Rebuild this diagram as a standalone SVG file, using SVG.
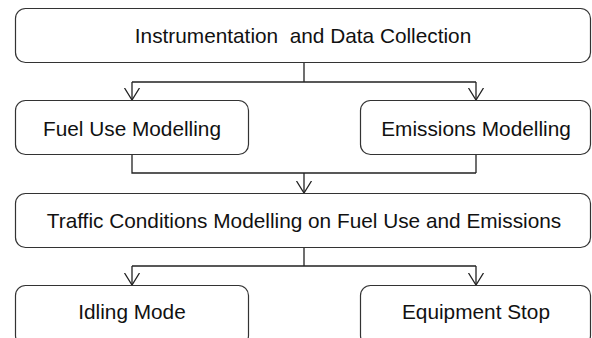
<svg xmlns="http://www.w3.org/2000/svg" width="592" height="338" viewBox="0 0 592 338">
<style>
.box{fill:#fff;stroke:#333;stroke-width:1.2}
.t{font-family:"Liberation Sans",Arial,sans-serif;font-size:20.8px;fill:#111;text-anchor:middle;white-space:pre}
.c{fill:none;stroke:#222;stroke-width:1.3}
</style>
<defs>
<marker id="v" markerWidth="14" markerHeight="18" refX="12" refY="8" orient="auto" markerUnits="userSpaceOnUse" viewBox="0 0 14 16">
<path d="M0.5,0.5 L12.5,8 L0.5,15.5" fill="none" stroke="#222" stroke-width="1.3"/>
</marker>
</defs>
<rect width="592" height="338" fill="#fff"/>
<g id="connectors">
<path class="c" d="M304,62 V82 M132,82 H476"/>
<path class="c" d="M132,82 V99.5" marker-end="url(#v)"/>
<path class="c" d="M476,82 V99.5" marker-end="url(#v)"/>
<path class="c" d="M132,154 V173 H476 M476,154 V173"/>
<path class="c" d="M304,173 V192.5" marker-end="url(#v)"/>
<path class="c" d="M304,247 V266 M132,266 H476"/>
<path class="c" d="M132,266 V284.5" marker-end="url(#v)"/>
<path class="c" d="M476,266 V284.5" marker-end="url(#v)"/>
</g>
<g id="n1"><rect class="box" x="15.5" y="8.5" width="575" height="54" rx="10"/><text class="t" x="303" y="43" xml:space="preserve">Instrumentation  and Data Collection</text></g>
<g id="n2"><rect class="box" x="15.5" y="100.5" width="233" height="54" rx="10"/><text class="t" x="132" y="136">Fuel Use Modelling</text></g>
<g id="n3"><rect class="box" x="360.5" y="100.5" width="230" height="54" rx="10"/><text class="t" x="476" y="136">Emissions Modelling</text></g>
<g id="n4"><rect class="box" x="15.5" y="193.5" width="575" height="54" rx="10"/><text class="t" x="304" y="228">Traffic Conditions Modelling on Fuel Use and Emissions</text></g>
<g id="n5"><rect class="box" x="15.5" y="285.5" width="233" height="60" rx="10"/><text class="t" x="132" y="319">Idling Mode</text></g>
<g id="n6"><rect class="box" x="360.5" y="285.5" width="230" height="60" rx="10"/><text class="t" x="476" y="319">Equipment Stop</text></g>
</svg>
